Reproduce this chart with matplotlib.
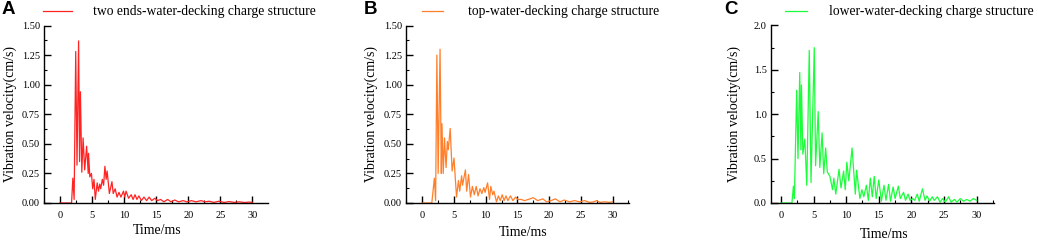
import matplotlib.pyplot as plt
from matplotlib.ticker import MultipleLocator, FormatStrFormatter

# panel A: two ends-water-decking
t_a = [0, 1.8, 2.0, 2.2, 2.45, 2.65, 2.9, 3.05, 3.18, 3.4, 3.6, 3.85, 4.15, 4.4, 4.45, 4.65,
       4.9, 5.1, 5.3, 5.5, 5.8, 6.0, 6.2, 6.35, 6.6, 6.8, 7.0, 7.2, 7.35, 7.7, 8.1, 8.3,
       8.6, 8.9, 9.2, 9.5, 9.9, 10.1, 10.3, 10.7, 11.1, 11.4, 11.7, 12.0, 12.3, 12.7, 13.1,
       13.5, 13.9, 14.3, 14.8, 15.2, 15.7, 16.2, 16.8, 17.3, 17.9, 18.5, 19.2, 19.8, 20.5,
       21.2, 22.0, 22.6, 23.3, 24.0, 24.8, 25.6, 26.4, 27.2, 28.0, 28.8, 29.5, 30.0]
v_a = [0, 0, 0.21, 0.03, 1.28, 0.32, 1.37, 0.35, 0.94, 0.26, 0.55, 0.28, 0.48, 0.25, 0.42, 0.22,
       0.25, 0.12, 0.20, 0.03, 0.17, 0.10, 0.16, 0.12, 0.20, 0.15, 0.31, 0.20, 0.27, 0.08, 0.18, 0.08,
       0.12, 0.05, 0.09, 0.05, 0.10, 0.05, 0.10, 0.04, 0.07, 0.03, 0.07, 0.03, 0.06, 0.02, 0.05,
       0.02, 0.05, 0.02, 0.04, 0.02, 0.03, 0.01, 0.03, 0.01, 0.025, 0.01, 0.02, 0.01, 0.02,
       0.01, 0.02, 0.01, 0.015, 0.005, 0.015, 0.005, 0.012, 0.005, 0.01, 0.004, 0.008, 0.005]

# panel B: top-water-decking
t_b = [0, 1.5, 1.9, 2.1, 2.3, 2.5, 2.8, 3.0, 3.1, 3.3, 3.5, 3.75, 3.95, 4.1, 4.4, 4.7, 5.0,
       5.4, 5.7, 5.9, 6.2, 6.35, 6.8, 7.0, 7.3, 7.6, 7.9, 8.2, 8.5, 8.8, 9.1, 9.4, 9.7, 9.9,
       10.3, 10.6, 10.8, 11.1, 11.3, 11.7, 12.0, 12.3, 12.6, 12.9, 13.2, 13.5, 13.9, 14.3,
       14.7, 15.1, 15.6, 16.1, 16.7, 17.5, 18.2, 19.0, 19.6, 20.3, 21.0, 21.7, 22.4, 23.2,
       24.0, 24.8, 25.6, 26.4, 27.0, 27.5, 28.0, 28.8, 29.5, 30.0]
v_b = [0, 0, 0.21, 0.02, 1.25, 0.25, 1.30, 0.25, 0.67, 0.25, 0.55, 0.30, 0.52, 0.45, 0.63, 0.27, 0.38,
       0.05, 0.19, 0.10, 0.23, 0.15, 0.28, 0.10, 0.24, 0.05, 0.14, 0.07, 0.14, 0.06, 0.12, 0.08, 0.13, 0.09,
       0.17, 0.03, 0.14, 0.07, 0.10, 0.01, 0.06, 0.02, 0.07, 0.02, 0.06, 0.02, 0.06, 0.02,
       0.05, 0.03, 0.03, 0.02, 0.03, 0.045, 0.02, 0.035, 0.01, 0.02, 0.035, 0.01, 0.025, 0.01,
       0.02, 0.01, 0.02, 0.005, 0.01, 0.02, 0.005, 0.01, 0.005, 0.01]

# panel C: lower-water-decking
t_c = [0, 1.67, 1.9, 2.05, 2.4, 2.6, 2.87, 3.05, 3.13, 3.35, 3.65, 3.95, 4.33, 4.6, 5.1, 5.3,
       5.7, 5.95, 6.3, 6.55, 6.85, 7.1, 7.5, 7.9, 8.1, 8.4, 8.9, 9.2, 9.6, 9.85, 10.1, 10.4,
       10.9, 11.4, 11.6, 12.1, 12.4, 12.7, 13.1, 13.4, 13.7, 14.0, 14.3, 14.6, 15.0, 15.4,
       15.8, 16.1, 16.5, 16.8, 17.2, 17.5, 18.0, 18.3, 18.8, 19.1, 19.5, 19.8, 20.2, 20.5,
       20.9, 21.2, 21.7, 22.1, 22.4, 22.8, 23.2, 23.5, 24.0, 24.4, 24.8, 25.2, 25.7, 26.1,
       26.6, 27.0, 27.5, 28.0, 28.5, 29.0, 29.5, 30.0]
v_c = [0, 0, 0.19, 0.05, 1.27, 0.50, 1.47, 0.60, 1.33, 0.55, 0.72, 0.20, 1.72, 0.23, 1.75, 0.42,
       1.03, 0.40, 0.79, 0.33, 0.62, 0.35, 0.30, 0.15, 0.28, 0.10, 0.38, 0.17, 0.36, 0.15, 0.46, 0.25,
       0.62, 0.10, 0.37, 0.05, 0.15, 0.07, 0.20, 0.03, 0.28, 0.07, 0.30, 0.05, 0.26, 0.02,
       0.20, 0.03, 0.21, 0.02, 0.18, 0.05, 0.19, 0.05, 0.12, 0.03, 0.10, 0.03, 0.05, 0.03,
       0.10, 0.02, 0.16, 0.03, 0.08, 0.02, 0.07, 0.03, 0.07, 0.01, 0.05, 0.01, 0.07, 0.01,
       0.04, 0.01, 0.05, 0.02, 0.04, 0.02, 0.05, 0.03]

labels = ['two ends-water-decking charge structure',
          'top-water-decking charge structure',
          'lower-water-decking charge structure']
letters = ['A', 'B', 'C']
colors = ['#ff2424', '#ff7f2a', '#1aff3a']

W, H = 1038, 242
fig = plt.figure(figsize=(W / 100, H / 100), dpi=100)
plt.rcParams['font.family'] = 'Liberation Serif'

# axes boxes in pixels: left, right, xmin, xmax, ymax
boxes = [(44, 268, -2.5, 32.45, 1.5),
         (406, 629, -2.57, 32.6, 1.5),
         (771, 994, -1.54, 32.68, 2.0)]
leg_x = [43, 422, 785]
leg_handle = [2.1, 1.55, 1.6]
leg_pad = [1.55, 1.85, 1.6]
letter_x = [2, 364, 724]
ylab_x = [10, 371, 734]
xlab = [(157, 230), (523, 232), (884, 234)]
data = [(t_a, v_a), (t_b, v_b), (t_c, v_c)]

for i in range(3):
    l, r, x0, x1, ymax = boxes[i]
    ax = fig.add_axes([l / W, 1 - 203 / H, (r - l) / W, (203 - 25.5) / H])
    t, v = data[i]
    ax.plot(t, v, color=colors[i], lw=0.9, label=labels[i])
    ax.set_xlim(x0, x1)
    ax.set_ylim(0, ymax)
    for s in ['top', 'right']:
        ax.spines[s].set_visible(False)
    for s in ['left', 'bottom']:
        ax.spines[s].set_linewidth(1.0)
    ax.xaxis.set_major_locator(MultipleLocator(5))
    ax.xaxis.set_minor_locator(MultipleLocator(2.5))
    if ymax == 2.0:
        ax.yaxis.set_major_locator(MultipleLocator(0.5))
        ax.yaxis.set_minor_locator(MultipleLocator(0.25))
        ax.yaxis.set_major_formatter(FormatStrFormatter('%.1f'))
    else:
        ax.yaxis.set_major_locator(MultipleLocator(0.25))
        ax.yaxis.set_minor_locator(MultipleLocator(0.125))
        ax.yaxis.set_major_formatter(FormatStrFormatter('%.2f'))
    ax.tick_params(which='major', direction='in', length=5, width=1, labelsize=7.5)
    ax.tick_params(axis='x', which='major', pad=6)
    ax.tick_params(axis='y', which='major', pad=3)
    ax.tick_params(which='minor', direction='in', length=2.5, width=0.8)
    ax.set_xlabel('Time/ms', fontsize=10)
    ax.set_ylabel('Vibration velocity(cm/s)', fontsize=10)
    ax.yaxis.set_label_coords(ylab_x[i] / W, 1 - 114 / H, transform=fig.transFigure)
    ax.xaxis.set_label_coords(xlab[i][0] / W, 1 - xlab[i][1] / H, transform=fig.transFigure)
    ax.yaxis.label.set_va('center')
    ax.xaxis.label.set_va('center')
    ax.legend(loc='center left', bbox_to_anchor=(leg_x[i] / W, 1 - 12 / H),
              bbox_transform=fig.transFigure, frameon=False, fontsize=9.8,
              handlelength=leg_handle[i], handletextpad=leg_pad[i],
              borderpad=0, borderaxespad=0)
    fig.text(letter_x[i] / W, 1 - 1 / H, letters[i], fontsize=13.5, fontweight='bold',
             family='Liberation Sans', va='top', ha='left')

fig.savefig('out.png', dpi=100)
